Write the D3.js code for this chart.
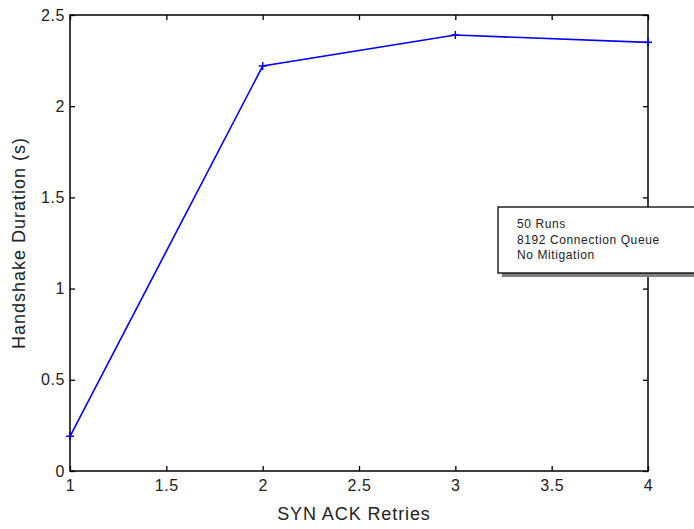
<!DOCTYPE html>
<html><head><meta charset="utf-8">
<script src="https://cdn.jsdelivr.net/npm/d3@7"></script>
<style>body{margin:0;background:#fff}svg{display:block}</style>
</head><body>
<svg id="c" width="694" height="529"></svg>
<script>
const retries = [1, 2, 3, 4];
const duration = [0.19, 2.22, 2.39, 2.35];
const xTicks = [1, 1.5, 2, 2.5, 3, 3.5, 4];
const yTicks = [0, 0.5, 1, 1.5, 2, 2.5];
const legendLines = ["50 Runs", "8192 Connection Queue", "No Mitigation"];

const svg = d3.select("#c");
const L = 70, R = 648, T = 15, B = 471;
const x = d3.scaleLinear().domain([1, 4]).range([L, R]);
const y = d3.scaleLinear().domain([0, 2.5]).range([B, T]);
const font = "'Liberation Sans', Arial, sans-serif";

const styleAxis = g => { g.select(".domain").remove(); g.selectAll("line").attr("stroke", "#000").attr("stroke-width", 1.3); g.selectAll("text").attr("font-family", font).attr("font-size", 16).attr("letter-spacing", 0.6).attr("fill", "#222"); };
svg.append("g").attr("transform", `translate(0,${B})`).call(d3.axisBottom(x).tickValues(xTicks).tickFormat(d3.format("")).tickSizeInner(-5).tickPadding(9)).call(styleAxis);
svg.append("g").attr("transform", `translate(0,${T})`).call(d3.axisTop(x).tickValues(xTicks).tickFormat("").tickSizeInner(-5)).call(styleAxis);
svg.append("g").attr("transform", `translate(${L},0)`).call(d3.axisLeft(y).tickValues(yTicks).tickFormat(d3.format("")).tickSizeInner(-5).tickPadding(5)).call(styleAxis);
svg.append("g").attr("transform", `translate(${R},0)`).call(d3.axisRight(y).tickValues(yTicks).tickFormat("").tickSizeInner(-5)).call(styleAxis);
svg.append("rect").attr("x", L).attr("y", T).attr("width", R - L).attr("height", B - T).attr("fill", "none").attr("stroke", "#000").attr("stroke-width", 1.5);

svg.append("path").datum(retries.map((r, i) => [r, duration[i]]))
  .attr("d", d3.line().x(d => x(d[0])).y(d => y(d[1])))
  .attr("fill", "none").attr("stroke", "#0000ff").attr("stroke-width", 1.6);
svg.selectAll(".mk").data(retries.map((r, i) => [r, duration[i]])).enter().append("path")
  .attr("d", d => `M${x(d[0]) - 4},${y(d[1])}h8M${x(d[0])},${y(d[1]) - 4}v8`)
  .attr("stroke", "#0000ff").attr("stroke-width", 1.5);

svg.append("text").attr("x", 354).attr("y", 520).attr("text-anchor", "middle").attr("font-family", font).attr("font-size", 18).attr("letter-spacing", 0.9).attr("fill", "#222").text("SYN ACK Retries");
svg.append("text").attr("transform", "translate(25,243) rotate(-90)").attr("text-anchor", "middle").attr("font-family", font).attr("font-size", 18).attr("letter-spacing", 1).attr("fill", "#222").text("Handshake Duration (s)");

const bx = 498, by = 207, bw = 200, bh = 66;
svg.append("rect").attr("x", bx + 4).attr("y", by + 4).attr("width", bw).attr("height", bh).attr("fill", "#808080");
svg.append("rect").attr("x", bx).attr("y", by).attr("width", bw).attr("height", bh).attr("fill", "#fff").attr("stroke", "#000").attr("stroke-width", 1.3);
svg.selectAll(".lg").data(legendLines).enter().append("text")
  .attr("x", 517).attr("y", (d, i) => 228 + i * 15.5).attr("font-family", font).attr("font-size", 12).attr("letter-spacing", 0.6).attr("fill", "#222").text(d => d);
</script>
</body></html>
